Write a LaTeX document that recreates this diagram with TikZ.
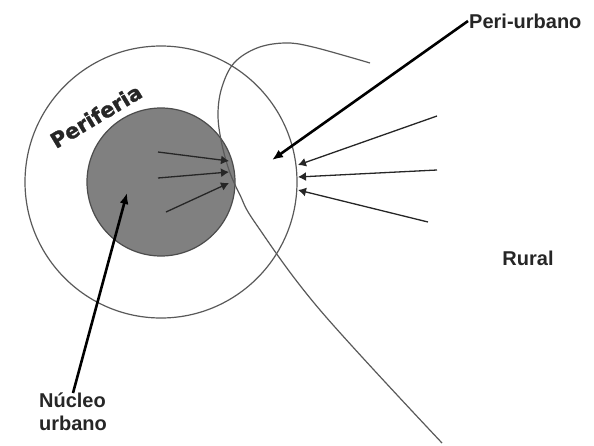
\documentclass[tikz,border=0pt]{standalone}
\usepackage{fontspec}
\setmainfont{Liberation Sans}
\newfontfamily\heavyfont[BoldFeatures={FakeBold=1.2}]{DejaVu Sans}
\usetikzlibrary{positioning,arrows.meta}
\tikzset{
  ringline/.style={draw=black!65, line width=1.2pt},
  corefill/.style={fill=black!50, draw=black!70, line width=1.2pt},
  bigarrow/.style={-{Latex[length=11pt, width=9pt]}, line width=2.6pt, black},
  flowarrow/.style={-{Latex[length=8pt, width=9pt]}, line width=1.3pt, black!85},
  zonelabel/.style={font=\bfseries\fontsize{20}{23}\selectfont, text=black!85, align=left, inner sep=1pt}
}

\begin{document}
\begin{tikzpicture}[x=1pt, y=-1pt]
  \useasboundingbox (0,0) rectangle (594,445);
  \draw[ringline] (161,182) circle[radius=136];
  \draw[corefill] (161,182) circle[radius=74];
  \draw[ringline] plot[smooth, tension=0.6] coordinates {(370,63) (313,47) (285,43) (257,48) (234,63) (222,87) (218,113) (221,140) (229,170) (240,195) (256,224) (320,310) (442,443)};

  \node[zonelabel, font=\heavyfont\bfseries\fontsize{21}{24}\selectfont, rotate=31] (periferia) at (96,116) {Periferia};
  \node[zonelabel, anchor=west] (periurbano) at (468,21) {Peri-urbano};
  \node[zonelabel] (rural) at (528,258) {Rural};
  \node[zonelabel, anchor=north, inner sep=0pt] (nucleo) at (73,393) {Núcleo\\urbano};

  \coordinate (periurbanotip) at (272,160);
  \coordinate (nucleotip) at (127,193);
  \draw[bigarrow] (periurbano.west) -- (periurbanotip);
  \draw[bigarrow] (nucleo.north) -- (nucleotip);

  \coordinate (core1) at (158,152);
  \coordinate (core2) at (158,178);
  \coordinate (core3) at (166,212);
  \coordinate (edge1) at (229,161);
  \coordinate (edge2) at (229,172);
  \coordinate (edge3) at (229,183);
  \draw[flowarrow] (core1) -- (edge1);
  \draw[flowarrow] (core2) -- (edge2);
  \draw[flowarrow] (core3) -- (edge3);

  \coordinate (rural1) at (437,116);
  \coordinate (rural2) at (437,170);
  \coordinate (rural3) at (428,222);
  \coordinate (ring1) at (298,165);
  \coordinate (ring2) at (298,177);
  \coordinate (ring3) at (298,190);
  \draw[flowarrow] (rural1) -- (ring1);
  \draw[flowarrow] (rural2) -- (ring2);
  \draw[flowarrow] (rural3) -- (ring3);
\end{tikzpicture}
\end{document}
